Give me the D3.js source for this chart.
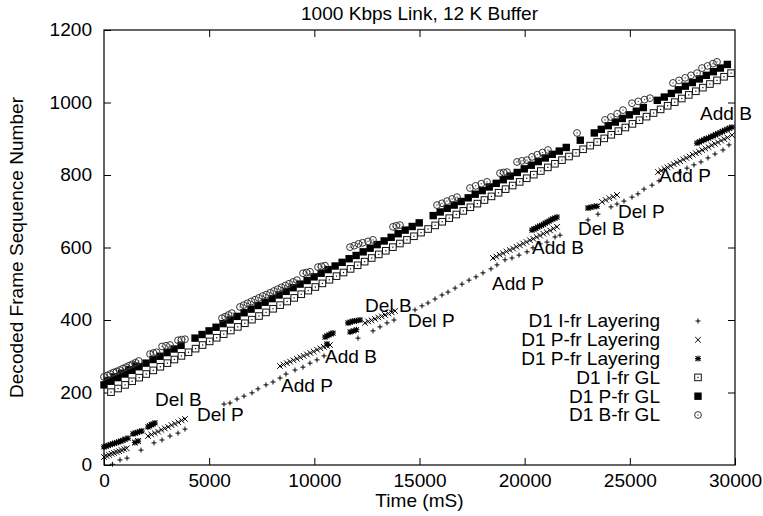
<!DOCTYPE html>
<html>
<head>
<meta charset="utf-8">
<script src="https://cdn.jsdelivr.net/npm/d3@7"></script>
<style>
  body { margin: 0; background: #fff; }
  text { font-family: "Liberation Sans", Arial, Helvetica, sans-serif; font-size: 17.5px; fill: #000; }
</style>
</head>
<body>
<svg id="chart" width="763" height="516"></svg>
<script>
// ---- data (time in mS, decoded frame sequence number) ----
const title = '1000 Kbps Link, 12 K Buffer';
const xLabel = 'Time (mS)';
const yLabel = 'Decoded Frame Sequence Number';
const xTicks = [0, 5000, 10000, 15000, 20000, 25000, 30000];
const yTicks = [0, 200, 400, 600, 800, 1000, 1200];

const iFrameLayering = [
  [400,2],[760,14],[1093,19],[1760,41],[2377,61],[2757,69],[3138,80],[3518,88],[3851,99],
  [5705,168],[5990,171],[6323,182],[6656,190],[7036,199],[7322,210],[7702,221],[8035,229],[8368,240],
  [8653,251],[9081,262],[9461,270],[9794,281],[10126,290],[10459,301],
  [12076,350],[12789,370],[13122,381],[13455,392],[13787,400],
  [14786,428],[15119,439],[15404,447],[15737,458],[16070,469],[16356,477],[16690,488],
  [17020,499],[17353,510],[17686,519],[18019,530],[18399,541],[18684,552],[19065,566],[19397,571],
  [19730,579],[20111,588],[20396,599],[20729,610],[21062,615],[21442,629],[21680,634],
  [23010,676],[23486,692],[24104,712],[24389,720],[24722,728],[25103,739],[25388,748],[25673,761],
  [26053,772],[26386,784],[27350,808],[27717,819],[28050,828],[28383,836],[28716,847],[29049,858],
  [29429,869],[29714,883]
];

const pFrameLayeringX = [
  [0,22],[120,25],[240,28],[360,31],[480,33],[600,36],[720,38],[840,41],[960,44],[1080,46],
  [1470,62],[1620,66],
  [2090,80],[2250,84],[2410,88],[2570,92],[2730,97],[2890,101],[3050,105],[3210,110],[3370,114],
  [3530,118],[3690,123],[3850,127],
  [8368,273],[8530,277],[8690,281],[8850,285],[9010,289],[9170,293],[9330,297],[9490,301],[9650,305],
  [9810,309],[9970,313],[10130,318],[10290,322],[10450,326],[10600,329],[10745,331],
  [12408,392],[12560,396],[12720,399],[12880,403],[13040,407],[13200,410],[13360,414],[13520,418],
  [13680,421],[13835,425],
  [18494,571],[18650,575],[18810,580],[18970,584],[19130,589],[19290,593],[19450,597],[19610,602],
  [19770,606],[19930,611],[20090,615],[20250,620],[20410,624],[20570,629],[20730,633],[20890,638],
  [21050,642],[21210,647],[21370,652],[21537,657],
  [23676,726],[23850,731],[24030,736],[24210,740],[24389,745],
  [26338,808],[26490,812],[26640,817],[26790,821],[26940,825],[27090,830],[27240,834],[27390,838],
  [27540,843],[27690,847],[27840,851],[27990,856],[28140,860],[28290,864],[28440,869],[28590,873],
  [28740,877],[28890,882],[29040,886],[29190,890],[29340,895],[29490,899],[29640,903],[29857,910]
];

const pFrameLayeringStar = [
  [0,50],[100,52],[200,54],[300,56],[400,58],[500,60],[600,62],[700,64],[800,66],[900,68],[1000,71],[1141,74],
  [1380,86],[1480,88],[1580,90],[1700,92],[1800,94],[1470,62],[1620,66],
  [2090,105],[2170,108],[2250,111],[2330,113],[2425,116],
  [10507,353],[10600,356],[10700,359],[10800,362],[10887,364],[10600,334],
  [11600,392],[11700,394],[11800,396],[11900,397],[12000,398],[12170,400],[11700,367],[11850,370],[12000,373],
  [20348,648],[20440,651],[20530,653],[20620,656],[20710,659],[20800,661],[20890,664],[20980,667],
  [21070,670],[21160,673],[21250,676],[21340,679],[21440,681],[21537,684],
  [23010,709],[23150,711],[23300,713],[23438,714],
  [28193,888],[28300,891],[28410,894],[28520,897],[28630,900],[28740,902],[28850,905],[28960,908],
  [29070,911],[29180,914],[29290,917],[29400,920],[29510,923],[29620,926],[29730,929],[29857,932]
];

const iFrameGL = [
  [333,201],[668,211],[1003,221],[1338,231],[1673,241],[2008,251],[2343,261],[2678,271],[3013,281],
  [3348,291],[3683,301],[4018,311],[4353,321],[4688,331],[5023,341],[5358,351],[5693,361],[6028,371],
  [6363,381],[6698,391],[7033,401],[7368,411],[7703,421],[8038,431],[8373,441],[8708,451],[9043,461],
  [9378,471],[9713,481],[10048,491],[10383,501],[10718,511],[11053,521],[11388,531],[11723,541],
  [12058,551],[12393,561],[12728,571],[13063,581],[13398,591],[13733,601],[14068,611],[14403,621],
  [14738,631],[15073,641],[15408,651],[15743,661],[16078,671],[16413,681],[16748,691],[17083,701],
  [17418,711],[17753,721],[18088,731],[18423,741],[18758,751],[19093,761],[19428,771],[19763,781],
  [20098,791],[20433,801],[20768,811],[21103,821],[21438,831],[21773,841],[22108,851],[22443,861],
  [22778,871],[23113,881],[23448,891],[23783,901],[24118,911],[24453,921],[24788,931],[25123,941],
  [25458,951],[25793,961],[26128,971],[26463,981],[26798,991],[27133,1001],[27468,1011],[27803,1021],
  [28138,1031],[28473,1041],[28808,1051],[29143,1061],[29478,1071],[29813,1081]
];

const pFrameGL = [
  [0,221],[333,231],[666,241],[999,251],[1332,261],[1665,271],[1998,281],[2331,291],[2664,300],
  [2997,310],[3330,320],[3663,330],[4329,350],[4662,360],[4995,370],[5328,380],[5661,390],[5994,400],
  [6327,410],[6660,420],[6993,430],[7326,440],[7659,449],[7992,459],[8325,469],[8658,479],[8991,489],
  [9324,499],[9657,509],[9990,519],[10323,529],[10656,539],[10989,549],[11322,559],[11655,569],
  [11988,578],[12321,588],[12654,598],[12987,608],[13320,618],[13653,628],[13986,638],[14319,648],
  [14652,658],[14985,668],[15651,688],[15984,698],[16317,708],[16650,717],[16983,727],[17316,737],
  [17649,747],[17982,757],[18315,767],[18648,777],[18981,787],[19314,797],[19647,807],[19980,817],
  [20313,827],[20646,837],[20979,847],[21312,857],[21645,866],[21978,876],[22644,896],[23310,916],
  [23643,926],[23976,936],[24309,946],[24642,956],[24975,966],[25308,976],[25641,986],[26307,1006],
  [26640,1015],[26973,1025],[27306,1035],[27639,1045],[27972,1055],[28305,1065],[28638,1075],
  [28971,1085],[29304,1095],[29637,1105],
  [167,233],[500,243],[833,253],[1167,263],[1500,273]
];

const bFrameGL = [
  [0,243],[150,247],[300,251],[450,255],[600,258],[750,262],[900,266],[1050,270],[1200,274],[1350,278],[1500,282],[1650,287],
  [2190,306],[2350,309],[2500,311],
  [2760,327],[2950,329],[3140,331],
  [3520,344],[3690,346],[3850,347],
  [5610,405],[5760,409],[5920,414],[6080,419],
  [6466,436],[6640,441],[6820,446],[7000,451],[7180,456],[7360,461],[7540,466],[7720,470],
  [7900,475],[8080,480],[8260,485],[8440,490],[8620,495],[8800,500],[8990,505],[9176,510],
  [9461,529],[9630,531],[9794,533],
  [10174,546],[10340,548],[10507,550],
  [11696,601],[11900,605],[12100,610],[12300,613],[12550,617],[12789,621],
  [13740,657],[13900,660],[14070,662],
  [15832,717],[16070,722],[16310,728],[16550,734],[16783,739],
  [17400,764],[17670,770],[17940,776],[18209,781],
  [18827,805],[19000,807],[19160,808],
  [19635,836],[19870,839],[20110,841],
  [20348,850],[20600,856],[20850,862],[21109,869],
  [22490,916],
  [23819,952],[24100,960],[24400,969],[24675,979],
  [25103,998],[25400,1003],[25700,1008],[25959,1012],
  [27052,1054],[27340,1061],[27630,1068],[27910,1075],[28193,1081],
  [28431,1095],[28700,1101],[28950,1107],[29144,1112]
];

const legendLabels = ['D1 I-fr Layering', 'D1 P-fr Layering', 'D1 P-fr Layering', 'D1 I-fr GL', 'D1 P-fr GL', 'D1 B-fr GL'];
const legendKinds = ['plus', 'cross', 'star', 'openSquare', 'filledSquare', 'circle'];

// annotation labels placed in data coordinates
const annotations = [
  ['Del B', 2425, 163], ['Del P', 4422, 121], ['Add P', 8415, 201], ['Add B', 10507, 281],
  ['Del B', 12409, 422], ['Del P', 14453, 381], ['Add P', 18447, 483], ['Add B', 20348, 582],
  ['Del B', 22535, 634], ['Del P', 24437, 681], ['Add P', 26386, 781], ['Add B', 28335, 952]
];

// ---- chart ----
const svg = d3.select('#chart');
const plot = { left: 104, right: 735, top: 30, bottom: 465 };
const stretch = 1.09; // the original font is a little wider than Arial

const xScale = d3.scaleLinear().domain([0, 30000]).range([plot.left, plot.right]);
const yScale = d3.scaleLinear().domain([0, 1200]).range([plot.bottom, plot.top]);

svg.append('rect').attr('width', 763).attr('height', 516).attr('fill', '#fff');

function addText(parent, x, y, str, anchor, rotate) {
  return parent.append('text')
    .attr('transform', `translate(${x},${y})${rotate ? ' rotate(-90)' : ''} scale(${stretch},1)`)
    .attr('text-anchor', anchor || 'start')
    .text(str);
}

// axes with inward ticks, mirrored on top / right
const tick = 7;
function styleAxis(g) {
  g.select('.domain').remove();
  g.attr('font-family', null).attr('font-size', null);
  g.selectAll('.tick line').attr('stroke', '#000');
  g.selectAll('.tick text').attr('transform', `scale(${stretch},1)`);
}
svg.append('g')
  .attr('transform', `translate(0,${plot.bottom})`)
  .call(d3.axisBottom(xScale).tickValues(xTicks).tickFormat(d3.format('d'))
    .tickSizeInner(-tick).tickSizeOuter(0).tickPadding(9.5))
  .call(styleAxis);
svg.append('g')
  .attr('transform', `translate(0,${plot.top})`)
  .call(d3.axisTop(xScale).tickValues(xTicks.slice(1, -1)).tickSizeInner(-tick).tickSizeOuter(0).tickFormat(''))
  .call(styleAxis);
svg.append('g')
  .attr('transform', `translate(${plot.left},0)`)
  .call(d3.axisLeft(yScale).tickValues(yTicks).tickFormat(d3.format('d'))
    .tickSizeInner(-tick).tickSizeOuter(0).tickPadding(11))
  .call(styleAxis);
svg.append('g')
  .attr('transform', `translate(${plot.right},0)`)
  .call(d3.axisRight(yScale).tickValues(yTicks.slice(1, -1)).tickSizeInner(-tick).tickSizeOuter(0).tickFormat(''))
  .call(styleAxis);

svg.append('rect')
  .attr('x', plot.left).attr('y', plot.top)
  .attr('width', plot.right - plot.left).attr('height', plot.bottom - plot.top)
  .attr('fill', 'none').attr('stroke', '#000').attr('stroke-width', 1.2);

// titles
addText(svg, (plot.left + plot.right) / 2, 20, title, 'middle');
addText(svg, (plot.left + plot.right) / 2, 507, xLabel, 'middle');
addText(svg, 23, (plot.top + plot.bottom) / 2, yLabel, 'middle', true);

// markers
function drawMark(g, kind, x, y) {
  if (kind === 'plus') {
    g.append('path').attr('d', `M${x - 2.5},${y}h5M${x},${y - 2.5}v5`)
      .attr('stroke', '#000').attr('stroke-width', 1);
  } else if (kind === 'cross') {
    g.append('path').attr('d', `M${x - 2.8},${y - 2.8}l5.6,5.6M${x - 2.8},${y + 2.8}l5.6,-5.6`)
      .attr('stroke', '#000').attr('stroke-width', 1);
  } else if (kind === 'star') {
    g.append('path').attr('d', `M${x - 3},${y}h6M${x},${y - 3}v6M${x - 2.5},${y - 2.5}l5,5M${x - 2.5},${y + 2.5}l5,-5`)
      .attr('stroke', '#000').attr('stroke-width', 1.1);
  } else if (kind === 'openSquare') {
    g.append('rect').attr('x', x - 3.3).attr('y', y - 3.3).attr('width', 6.6).attr('height', 6.6)
      .attr('fill', '#fff').attr('stroke', '#111').attr('stroke-width', 1);
    g.append('rect').attr('x', x - 0.6).attr('y', y - 0.6).attr('width', 1.2).attr('height', 1.2).attr('fill', '#000');
  } else if (kind === 'filledSquare') {
    g.append('rect').attr('x', x - 3.7).attr('y', y - 3.7).attr('width', 7.4).attr('height', 7.4).attr('fill', '#000');
  } else if (kind === 'circle') {
    g.append('circle').attr('cx', x).attr('cy', y).attr('r', 3.4)
      .attr('fill', 'none').attr('stroke', '#333').attr('stroke-width', 1);
    g.append('rect').attr('x', x - 0.6).attr('y', y - 0.6).attr('width', 1.2).attr('height', 1.2).attr('fill', '#444');
  }
}

const series = [
  [iFrameLayering, 'plus'], [pFrameLayeringX, 'cross'], [pFrameLayeringStar, 'star'],
  [iFrameGL, 'openSquare'], [pFrameGL, 'filledSquare'], [bFrameGL, 'circle']
];
series.forEach(([data, kind]) => {
  const g = svg.append('g').attr('class', kind);
  data.forEach(([t, s]) => drawMark(g, kind, xScale(t), yScale(s)));
});

// annotations
const notes = svg.append('g').attr('class', 'annotations');
annotations.forEach(([label, t, s]) => addText(notes, xScale(t), yScale(s), label));

// legend
const legend = svg.append('g').attr('class', 'legend');
legendLabels.forEach((label, i) => {
  const cy = 321 + i * 18.8;
  addText(legend, 660, cy + 6.3, label, 'end');
  drawMark(legend, legendKinds[i], 698, cy);
});
</script>
</body>
</html>
